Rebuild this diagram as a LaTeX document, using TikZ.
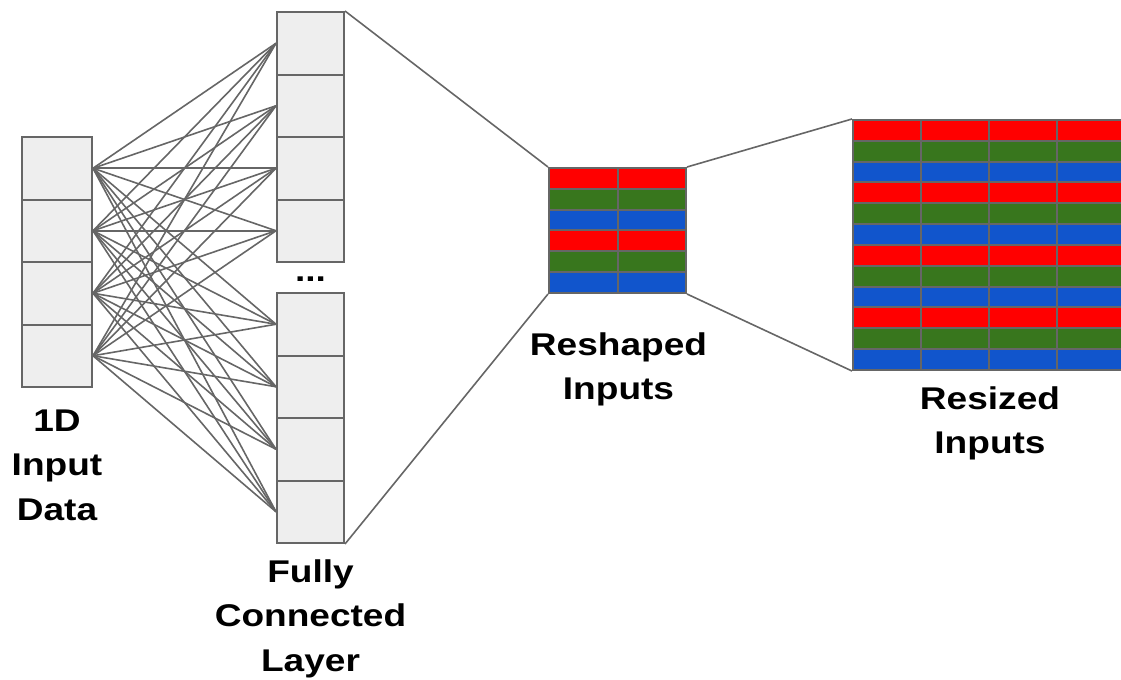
\documentclass[tikz,border=0pt]{standalone}
\usepackage{fontspec}
\setmainfont{Liberation Sans}[FakeStretch=1.18]
\usetikzlibrary{positioning}

\definecolor{linegray}{HTML}{666666}
\definecolor{cellgray}{HTML}{EEEEEE}
\definecolor{ch0}{HTML}{FF0000}
\definecolor{ch1}{HTML}{38761D}
\definecolor{ch2}{HTML}{1155CC}

\tikzset{
    cell/.style={draw=linegray, fill=cellgray, line width=1pt, inner sep=0pt,
        minimum width=35pt, minimum height=31.25pt},
    pix/.style={draw=linegray, line width=1pt, inner sep=0pt,
        minimum width=34.25pt, minimum height=10.42pt},
    link/.style={draw=linegray, line width=0.8pt},
    caption/.style={font=\bfseries\fontsize{15.7}{22.3}\selectfont, align=center,
        inner sep=0pt, anchor=north},
}

\begin{document}
\begin{tikzpicture}[x=0.5pt, y=-0.5pt]
    \useasboundingbox (0,0) rectangle (1121,680);

    % 1D input
    \foreach \k in {1,...,4}
        \node[cell] (in\k) at (57, {137+62.5*(\k-0.5)}) {};

    % fully connected layer, two blocks
    \foreach \k in {1,...,8}
        \node[cell, minimum width=33.5pt] (fc\k) at (310.5, {12+62.5*(\k-0.5)+31*(\k>4)}) {};
    \node[font=\bfseries\fontsize{15.7}{18}\selectfont, inner sep=0pt] (dots) at (310.5,279) {...};

    \foreach \i in {1,...,4}
        \foreach \j in {1,...,8}
            \draw[link] (in\i.east) -- (fc\j.west);

    % reshaped inputs
    \foreach \r [evaluate=\r as \m using {int(mod(\r-1,3))}] in {1,...,6}
        \foreach \c in {1,2}
            \node[pix, fill=ch\m] (rs-\r-\c) at ({549+68.5*(\c-0.5)}, {168+125/6*(\r-0.5)}) {};

    % resized inputs
    \foreach \r [evaluate=\r as \m using {int(mod(\r-1,3))}] in {1,...,12}
        \foreach \c in {1,...,4}
            \node[pix, minimum width=34pt, fill=ch\m] (rz-\r-\c) at ({853+68*(\c-0.5)}, {120+250/12*(\r-0.5)}) {};

    \draw[link] (fc1.north east) -- (rs-1-1.north west);
    \draw[link] (fc8.south east) -- (rs-6-1.south west);
    \draw[link] (rs-1-2.north east) -- (rz-1-1.north west);
    \draw[link] (rs-6-2.south east) -- (rz-12-1.south west);

    % captions
    \node[caption, below=10.5pt of in4] (incap) {1D\\Input\\Data};
    \node[caption, below=7.5pt of fc8] (fccap) {Fully\\Connected\\Layer};
    \node[caption, below=19pt of rs-6-1.south east] (rscap) {Reshaped\\Inputs};
    \node[caption, below=7.5pt of rz-12-2.south east] (rzcap) {Resized\\Inputs};
\end{tikzpicture}
\end{document}
